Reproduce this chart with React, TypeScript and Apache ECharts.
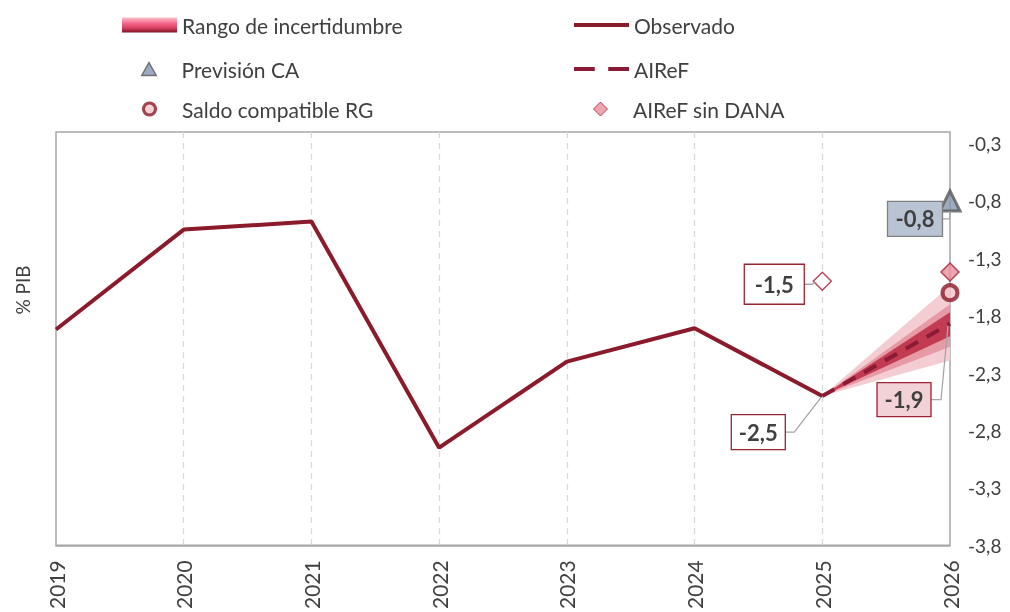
import React, { useEffect, useRef } from "react";
import * as echarts from "echarts";

// ---------- DATA ----------
const years = ["2019", "2020", "2021", "2022", "2023", "2024", "2025", "2026"];
const observed = [-1.92, -1.05, -0.98, -2.95, -2.2, -1.91, -2.5, null];
const airef = [null, null, null, null, null, null, -2.5, -1.87];

const bandYears = ["2025", "2026"];
const outerLow = [-2.5, -2.19];
const outerHigh = [-2.5, -1.54];
const midLow = [-2.5, -2.07];
const midHigh = [-2.5, -1.7];
const innerLow = [-2.5, -1.98];
const innerHigh = [-2.5, -1.77];

const caYears = ["2026"];
const caValues = [-0.8];
const rgYears = ["2026"];
const rgValues = [-1.6];
const sinDanaYears = ["2025", "2026"];
const sinDanaValues = [-1.5, -1.42];

const yTickMin = -3.8;
const yTickMax = -0.2;
const yTickStep = 0.5;

// annotation texts (value from data) with styling / offsets
const annotations = [
  { year: "2025", value: sinDanaValues[0], text: "-1,5", fill: "#ffffff", stroke: "#9b2335", dx: -48, dy: 3, w: 60, h: 40, elbow: 8, ex: -6, ey: 1 },
  { year: "2026", value: caValues[0], text: "-0,8", fill: "#b8c4d4", stroke: "#7f7f7f", dx: -35, dy: 18, w: 55, h: 35, elbow: 7, ex: 0, ey: 10 },
  { year: "2026", value: airef[7] as number, text: "-1,9", fill: "#f2d2d6", stroke: "#9b2335", dx: -46, dy: 76, w: 54, h: 34, elbow: 10, ex: -2, ey: 2 },
  { year: "2025", value: observed[6] as number, text: "-2,5", fill: "#ffffff", stroke: "#9b2335", dx: -64, dy: 36, w: 54, h: 35, elbow: 9, ex: -1, ey: 1 },
];

const FONT = "Lato";
const TXT = "#404040";
const MAROON = "#8b1a2b";

const ICON_LINE = "path://M0,0H55V4H0Z";
const ICON_DASH = "path://M0,0H20V4H0Z M33,0H53V4H33Z";
const ICON_TRI = "path://M5,0L10,9L0,9Z";
const ICON_CIRCLE = "path://M5,0A5,5,0,1,1,4.99,0Z";
const ICON_DIAMOND = "path://M5,0L10,5L5,10L0,5Z";

export default function App() {
  const ref = useRef<HTMLDivElement>(null);

  useEffect(() => {
    if (!ref.current) return;
    const chart = echarts.init(ref.current, undefined, { renderer: "svg" });

    const bandX = bandYears.map((y) => years.indexOf(y));

    const legendGradient = new echarts.graphic.LinearGradient(0, 0, 0, 1, [
      { offset: 0, color: "#fbc0cc" },
      { offset: 0.4, color: "#f2668a" },
      { offset: 0.7, color: "#d8405f" },
      { offset: 1, color: "#7d1426" },
    ]);

    const txt = { fontFamily: FONT, fontSize: 21, color: TXT, lineHeight: 24 };
    const legendBase = {
      padding: 0,
      itemWidth: 55,
      itemHeight: 15,
      itemGap: 0,
      textStyle: txt,
      selectedMode: false,
    };

    const option: any = {
      animation: false,
      textStyle: { fontFamily: FONT },
      grid: {
        left: 56,
        right: 60,
        top: 132,
        bottom: 64,
        show: true,
        borderColor: "#a6a6a6",
        borderWidth: 1.5,
        containLabel: false,
      },
      legend: [
        { ...legendBase, left: 122, top: 13, data: [{ name: "Rango de incertidumbre", icon: "rect", itemStyle: { color: legendGradient } }] },
        { ...legendBase, left: 574, top: 13, data: [{ name: "Observado", icon: ICON_LINE, itemStyle: { color: MAROON, borderWidth: 0 } }] },
        { ...legendBase, left: 141, top: 57, itemHeight: 13, data: [{ name: "Previsión CA", icon: ICON_TRI, itemStyle: { color: "#8496b0", borderColor: "#595959", borderWidth: 1.5 } }] },
        { ...legendBase, left: 574, top: 57, data: [{ name: "AIReF", icon: ICON_DASH, itemStyle: { color: "#8b1a35", borderWidth: 0 } }] },
        { ...legendBase, left: 142, top: 97, itemHeight: 12, data: [{ name: "Saldo compatible RG", icon: ICON_CIRCLE, itemStyle: { color: "#f2c4c9", borderColor: "#8b1a2b", borderWidth: 3 } }] },
        { ...legendBase, left: 593, top: 97, itemHeight: 14, data: [{ name: "AIReF sin DANA", icon: ICON_DIAMOND, itemStyle: { color: "#e8909c", borderColor: "#a31f36", borderWidth: 1 } }] },
      ],
      xAxis: {
        type: "category",
        data: years,
        boundaryGap: false,
        axisLine: { show: true, lineStyle: { color: "#a6a6a6", width: 1.5 } },
        axisTick: { show: false },
        axisLabel: {
          rotate: 90,
          margin: 15,
          fontFamily: FONT,
          fontSize: 21,
          color: TXT,
        },
        splitLine: {
          show: true,
          interval: (i: number) => i > 0 && i < years.length - 1,
          lineStyle: { color: "#d9d9d9", type: [6, 5], width: 1.3 },
        },
      },
      yAxis: {
        type: "value",
        position: "right",
        min: yTickMin,
        max: yTickMax,
        interval: yTickStep,
        axisLine: { show: false },
        axisTick: { show: false },
        splitLine: { show: false },
        axisLabel: {
          margin: 18,
          fontFamily: FONT,
          fontSize: 19,
          color: TXT,
          showMaxLabel: false,
          formatter: (v: number) =>
            Math.abs(v - yTickMax) < 1e-6 ? "" : v.toFixed(1).replace(".", ","),
        },
      },
      series: [
        {
          name: "Rango de incertidumbre",
          type: "custom",
          z: 1,
          encode: { x: 0, y: [1, 2] },
          data: bandYears.map((y, i) => [bandX[i], outerLow[i], outerHigh[i]]),
          renderItem: (params: any, api: any) => {
            if (params.dataIndex !== bandYears.length - 1) return null;
            const i0 = params.dataIndex - 1;
            const i1 = params.dataIndex;
            const poly = (lo: number[], hi: number[], color: string) => ({
              type: "polygon",
              shape: {
                points: [
                  api.coord([bandX[i0], lo[i0]]),
                  api.coord([bandX[i1], lo[i1]]),
                  api.coord([bandX[i1], hi[i1]]),
                  api.coord([bandX[i0], hi[i0]]),
                ],
              },
              style: { fill: color },
            });
            return {
              type: "group",
              children: [
                poly(outerLow, outerHigh, "#f4cdd3"),
                poly(midLow, midHigh, "#e69aa6"),
                poly(innerLow, innerHigh, "#c23b52"),
              ],
            };
          },
          itemStyle: { color: "#f2668a" },
        },
        {
          name: "Observado",
          type: "line",
          z: 3,
          data: observed,
          symbol: "none",
          lineStyle: { color: MAROON, width: 4 },
          itemStyle: { color: MAROON },
        },
        {
          name: "AIReF",
          type: "line",
          z: 4,
          data: airef,
          symbol: "none",
          lineStyle: { color: "#8b1a35", width: 4, type: [14, 10] },
          itemStyle: { color: "#8b1a35" },
        },
        {
          name: "Previsión CA",
          type: "scatter",
          z: 6,
          symbol: "triangle",
          symbolSize: 20,
          data: caYears.map((y, i) => [y, caValues[i]]),
          itemStyle: { color: "#8496b0", borderColor: "#595959", borderWidth: 3 },
        },
        {
          name: "Saldo compatible RG",
          type: "scatter",
          z: 6,
          symbol: "circle",
          symbolSize: 15,
          data: rgYears.map((y, i) => [y, rgValues[i]]),
          itemStyle: { color: "#f2c4c9", borderColor: "#8b1a2b", borderWidth: 4 },
        },
        {
          name: "AIReF sin DANA",
          type: "scatter",
          z: 6,
          symbol: "diamond",
          symbolSize: 18,
          data: sinDanaYears.map((y, i) =>
            i === 0
              ? { value: [y, sinDanaValues[i]], itemStyle: { color: "#ffffff" } }
              : { value: [y, sinDanaValues[i]] }
          ),
          itemStyle: { color: "#e8909c", borderColor: "#a31f36", borderWidth: 1.5 },
        },
      ],
    };

    chart.setOption(option);

    const toPx = (yr: string, v: number) =>
      chart.convertToPixel({ xAxisIndex: 0, yAxisIndex: 0 }, [years.indexOf(yr), v]) as number[];

    const graphics: any[] = [
      {
        type: "text",
        x: 22,
        y: 290,
        rotation: Math.PI / 2,
        style: {
          text: "% PIB",
          fontFamily: FONT,
          fontSize: 19,
          fill: TXT,
          align: "center",
          verticalAlign: "middle",
        },
      },
    ];

    annotations.forEach((a) => {
      const [px, py] = toPx(a.year, a.value);
      const cx = px + a.dx;
      const cy = py + a.dy;
      const right = cx + a.w / 2;
      graphics.push({
        type: "polyline",
        z: 20,
        shape: {
          points: [
            [right, cy],
            [right + a.elbow, cy],
            [px + a.ex, py + a.ey],
          ],
        },
        style: { stroke: "#a6a6a6", lineWidth: 1.3, fill: null },
      });
      graphics.push({
        type: "rect",
        z: 21,
        shape: { x: cx - a.w / 2, y: cy - a.h / 2, width: a.w, height: a.h },
        style: { fill: a.fill, stroke: a.stroke, lineWidth: 1.3 },
      });
      graphics.push({
        type: "text",
        z: 22,
        x: cx,
        y: cy,
        style: {
          text: a.text,
          fontFamily: FONT,
          fontWeight: "bold",
          fontSize: 22,
          fill: TXT,
          align: "center",
          verticalAlign: "middle",
        },
      });
    });

    chart.setOption({ graphic: graphics });

    return () => chart.dispose();
  }, []);

  return (
    <div
      ref={ref}
      style={{ position: "fixed", left: 0, top: 0, width: 1010, height: 612 }}
    />
  );
}
